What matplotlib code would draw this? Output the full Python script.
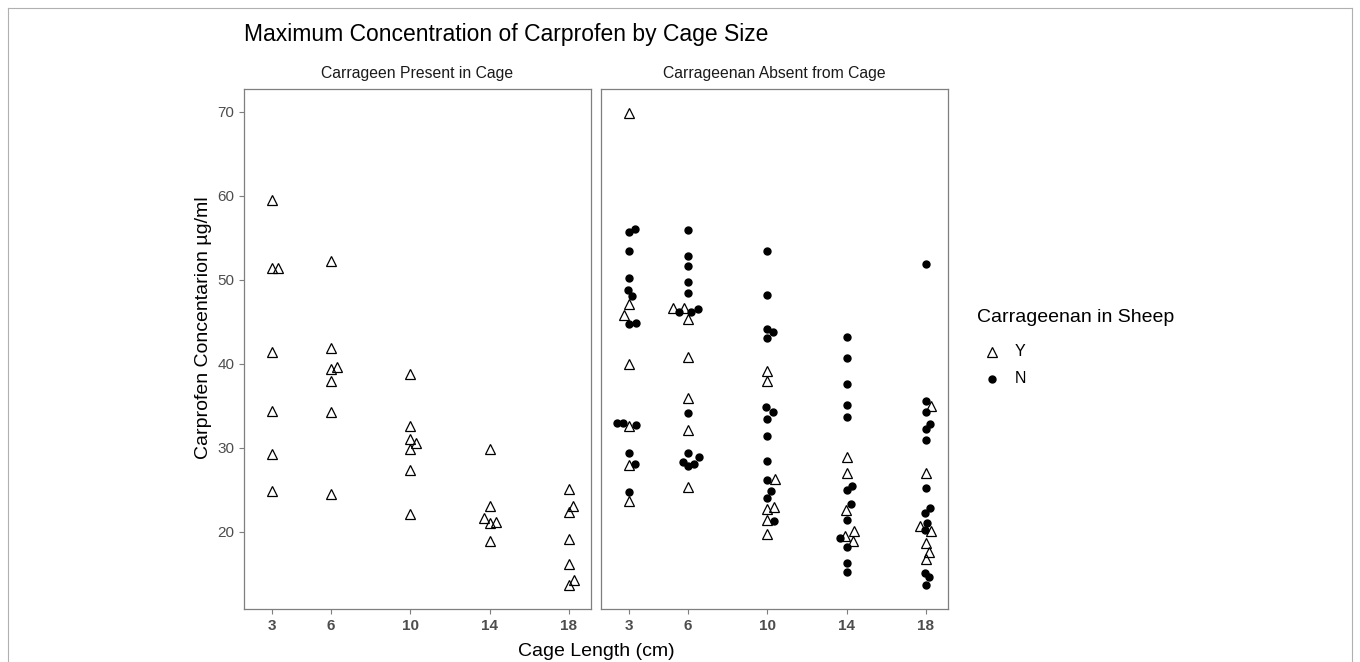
import matplotlib
matplotlib.use("Agg")
import matplotlib.pyplot as plt
from matplotlib.lines import Line2D

plt.rcParams['font.family'] = ['Liberation Sans', 'DejaVu Sans']

# cage lengths shown on the x axis
cage_ticks = [3, 6, 10, 14, 18]

# left panel: carrageen present in cage (all sheep "Y")
left_y_cage = [3, 3, 3, 3, 3, 3, 3,
               6, 6, 6, 6, 6, 6, 6,
               10, 10, 10, 10, 10, 10, 10,
               14, 14, 14, 14, 14, 14,
               18, 18, 18, 18, 18, 18, 18]
left_y_val = [59.5, 51.4, 51.4, 41.4, 34.35, 29.2, 24.9,
              52.2, 41.9, 39.4, 39.65, 37.9, 34.3, 24.5,
              38.8, 32.6, 31.0, 30.55, 29.8, 27.3, 22.15,
              29.8, 23.05, 21.6, 21.0, 21.15, 18.9,
              25.1, 23.05, 22.3, 19.1, 16.1, 14.25, 13.65]
left_y_dx = [0, 0, 0.33, 0, 0, 0, 0,
             0, 0, 0, 0.28, 0, 0, 0,
             0, 0, -0.03, 0.27, 0, 0, 0,
             0, 0, -0.27, 0, 0.32, 0,
             0, 0.22, 0, 0, 0, 0.27, 0]

# right panel: carrageenan absent from cage, sheep "Y"
right_y_cage = [3, 3, 3, 3, 3, 3, 3,
                6, 6, 6, 6, 6, 6, 6,
                10, 10, 10, 10, 10, 10, 10,
                14, 14, 14, 14, 14, 14,
                18, 18, 18, 18, 18, 18, 18]
right_y_val = [69.8, 47.05, 45.75, 40.0, 32.6, 27.95, 23.6,
               46.6, 46.6, 45.35, 40.85, 35.9, 32.05, 25.3,
               39.1, 37.9, 26.3, 23.0, 22.75, 21.45, 19.7,
               28.9, 27.0, 22.6, 19.5, 20.1, 18.95,
               34.95, 27.0, 20.7, 20.1, 18.6, 17.6, 16.8]
right_y_dx = [0, 0, -0.23, 0, 0, 0, 0,
              -0.78, -0.2, 0, 0, 0, 0, 0,
              0, 0, 0.37, 0.32, 0, 0, 0,
              0, 0, -0.05, -0.1, 0.37, 0.33,
              0.25, 0, -0.3, 0.25, 0, 0.17, 0]

# right panel: sheep "N"
right_n_cage = [3] * 14 + [6] * 14 + [10] * 14 + [14] * 13 + [18] * 14
right_n_val = [55.7, 56.0, 53.4, 50.2, 48.8, 48.0, 44.75, 44.9, 33.0, 33.0, 32.7, 29.4, 28.1, 24.7,
               55.9, 52.8, 51.6, 49.7, 48.45, 46.2, 46.1, 46.5, 34.1, 29.4, 28.9, 28.3, 27.8, 28.1,
               53.4, 48.2, 44.15, 43.8, 43.0, 34.9, 34.2, 33.4, 31.4, 28.4, 26.2, 24.9, 24.0, 21.3,
               43.2, 40.7, 37.6, 35.1, 33.7, 25.0, 25.4, 23.3, 21.4, 19.3, 18.2, 16.25, 15.2,
               51.9, 35.6, 34.2, 32.8, 32.2, 30.9, 25.2, 22.8, 22.2, 21.0, 20.2, 15.05, 14.6, 13.7]
right_n_dx = [0, 0.3, 0, 0, -0.03, 0.17, 0, 0.35, -0.57, -0.28, 0.35, 0, 0.33, 0,
              0, 0, 0, 0, 0, -0.48, 0.13, 0.5, 0, 0, 0.57, -0.26, 0.02, 0.31,
              0, 0, 0, 0.28, 0, -0.05, 0.28, 0, 0, 0, 0, 0.2, 0, 0.32,
              0, 0, 0, 0, 0, 0, 0.25, 0.2, 0, -0.33, 0, 0, 0,
              0, 0, 0, 0.22, 0, 0, 0, 0.2, -0.05, 0.03, -0.05, -0.05, 0.17, 0]

legend_labels = ["Y", "N"]

W, H = 1360, 662
fig = plt.figure(figsize=(W / 100, H / 100), dpi=100)

axis_grey = '#7f7f7f'
tick_grey = '#4d4d4d'
tri_style = dict(marker='^', linestyle='none', markersize=6.8, markerfacecolor='none',
                 markeredgecolor='black', markeredgewidth=0.9)
dot_style = dict(marker='o', linestyle='none', markersize=5.0, color='black')

ax_left = fig.add_axes([244 / W, 1 - 609 / H, 347 / W, 520 / H])
ax_right = fig.add_axes([601 / W, 1 - 609 / H, 347 / W, 520 / H])

ax_left.plot([c + d for c, d in zip(left_y_cage, left_y_dx)], left_y_val, **tri_style)
ax_right.plot([c + d for c, d in zip(right_n_cage, right_n_dx)], right_n_val, **dot_style)
ax_right.plot([c + d for c, d in zip(right_y_cage, right_y_dx)], right_y_val, **tri_style)

strips = ["Carrageen Present in Cage", "Carrageenan Absent from Cage"]
for ax, strip in zip([ax_left, ax_right], strips):
    ax.set_xlim(1.61, 19.11)
    ax.set_ylim(10.8, 72.7)
    ax.set_xticks(cage_ticks)
    ax.set_xticklabels([str(c) for c in cage_ticks], fontweight='bold')
    ax.set_yticks([20, 30, 40, 50, 60, 70])
    for sp in ax.spines.values():
        sp.set_color(axis_grey)
        sp.set_linewidth(0.9)
    ax.tick_params(colors=axis_grey, labelcolor=tick_grey, labelsize=11, length=3.5, width=0.8)
    ax.text(0.5, 1.029, strip, transform=ax.transAxes, ha='center', va='center',
            fontsize=11.3, color='#1a1a1a')
ax_right.tick_params(axis='y', left=False, labelleft=False)

fig.text(244 / W, 1 - 34 / H, "Maximum Concentration of Carprofen by Cage Size",
         fontsize=16.5, ha='left', va='center', color='black')
fig.text(203 / W, 1 - 328 / H, "Carprofen Concentarion µg/ml", rotation=90,
         fontsize=14, ha='center', va='center')
fig.text(596 / W, 1 - 651 / H, "Cage Length (cm)", fontsize=14, ha='center', va='center')

# legend drawn by hand so the title and keys line up like the original
fig.text(977 / W, 1 - 318 / H, "Carrageenan in Sheep", fontsize=14, ha='left', va='center')
for i, (lab, style) in enumerate(zip(legend_labels, [tri_style, dot_style])):
    ky = 1 - (352 + 27 * i) / H
    fig.add_artist(Line2D([992 / W], [ky], **style))
    fig.text(1015 / W, ky, lab, fontsize=11.5, ha='left', va='center')

# thin border around the whole picture
fig.add_artist(Line2D([8 / W, 8 / W], [0, 1 - 8 / H], color='#b0b0b0', linewidth=0.8))
fig.add_artist(Line2D([8 / W, 1352 / W], [1 - 8 / H, 1 - 8 / H], color='#b0b0b0', linewidth=0.8))
fig.add_artist(Line2D([1352 / W, 1352 / W], [0, 1 - 8 / H], color='#b0b0b0', linewidth=0.8))

fig.savefig("out.png", dpi=100)
